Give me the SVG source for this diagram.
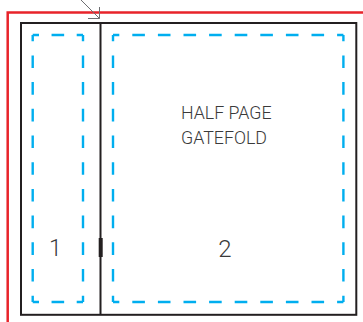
<svg xmlns="http://www.w3.org/2000/svg" width="363" height="322" viewBox="0 0 363 322">
  <style>
    .trim{fill:none;stroke:#e8232a;stroke-width:2.5}
    .page{fill:none;stroke:#231f20;stroke-width:2}
    .safe{fill:none;stroke:#00aeef;stroke-width:2.4;stroke-linecap:butt}
    .lbl{font-family:Roboto,"Liberation Sans",sans-serif;font-weight:300;fill:#3a3a3a}
    .arrow{fill:none;stroke:#6d6e71;stroke-width:1}
  </style>
  <rect width="363" height="322" fill="#ffffff"/>
  <g id="trim">
    <path class="trim" d="M7.7 330 V12.5 H370"/>
  </g>
  <g id="page">
    <rect class="page" x="21" y="23" width="335.3" height="291.8"/>
  </g>
  <g id="panel-1">
    <g class="safe">
      <line x1="32.7" y1="35" x2="83" y2="35" stroke-dasharray="12.6 12.55" stroke-dashoffset="6.3"/>
      <line x1="32.7" y1="302" x2="83" y2="302" stroke-dasharray="12.6 12.55" stroke-dashoffset="6.3"/>
      <line x1="32.7" y1="35" x2="32.7" y2="302" stroke-dasharray="12.6 14.1" stroke-dashoffset="6.3"/>
      <line x1="83" y1="35" x2="83" y2="302" stroke-dasharray="12.6 14.1" stroke-dashoffset="6.3"/>
    </g>
    <text class="lbl" x="55.5" y="256" font-size="23" text-anchor="middle">1</text>
  </g>
  <g id="panel-2">
    <g class="safe">
      <line x1="113" y1="35" x2="343.4" y2="35" stroke-dasharray="12.6 13" stroke-dashoffset="6.3"/>
      <line x1="113" y1="302" x2="343.4" y2="302" stroke-dasharray="12.6 13" stroke-dashoffset="6.3"/>
      <line x1="113" y1="35" x2="113" y2="302" stroke-dasharray="12.6 14.1" stroke-dashoffset="6.3"/>
      <line x1="343.4" y1="35" x2="343.4" y2="302" stroke-dasharray="12.6 14.1" stroke-dashoffset="6.3"/>
    </g>
    <text class="lbl" x="181" y="119.3" font-size="17.8">HALF PAGE</text>
    <text class="lbl" x="181" y="144.3" font-size="17.8">GATEFOLD</text>
    <text class="lbl" x="225" y="256.5" font-size="24" text-anchor="middle">2</text>
  </g>
  <g id="fold">
    <line class="page" x1="100.5" y1="23" x2="100.5" y2="314.8"/>
    <rect x="98.7" y="238" width="4" height="19" fill="#231f20"/>
  </g>
  <g id="connectors">
    <line class="arrow" x1="78" y1="-3" x2="99.5" y2="18.5"/>
    <path class="arrow" d="M88 18.5 H99.5 V7"/>
  </g>
</svg>
